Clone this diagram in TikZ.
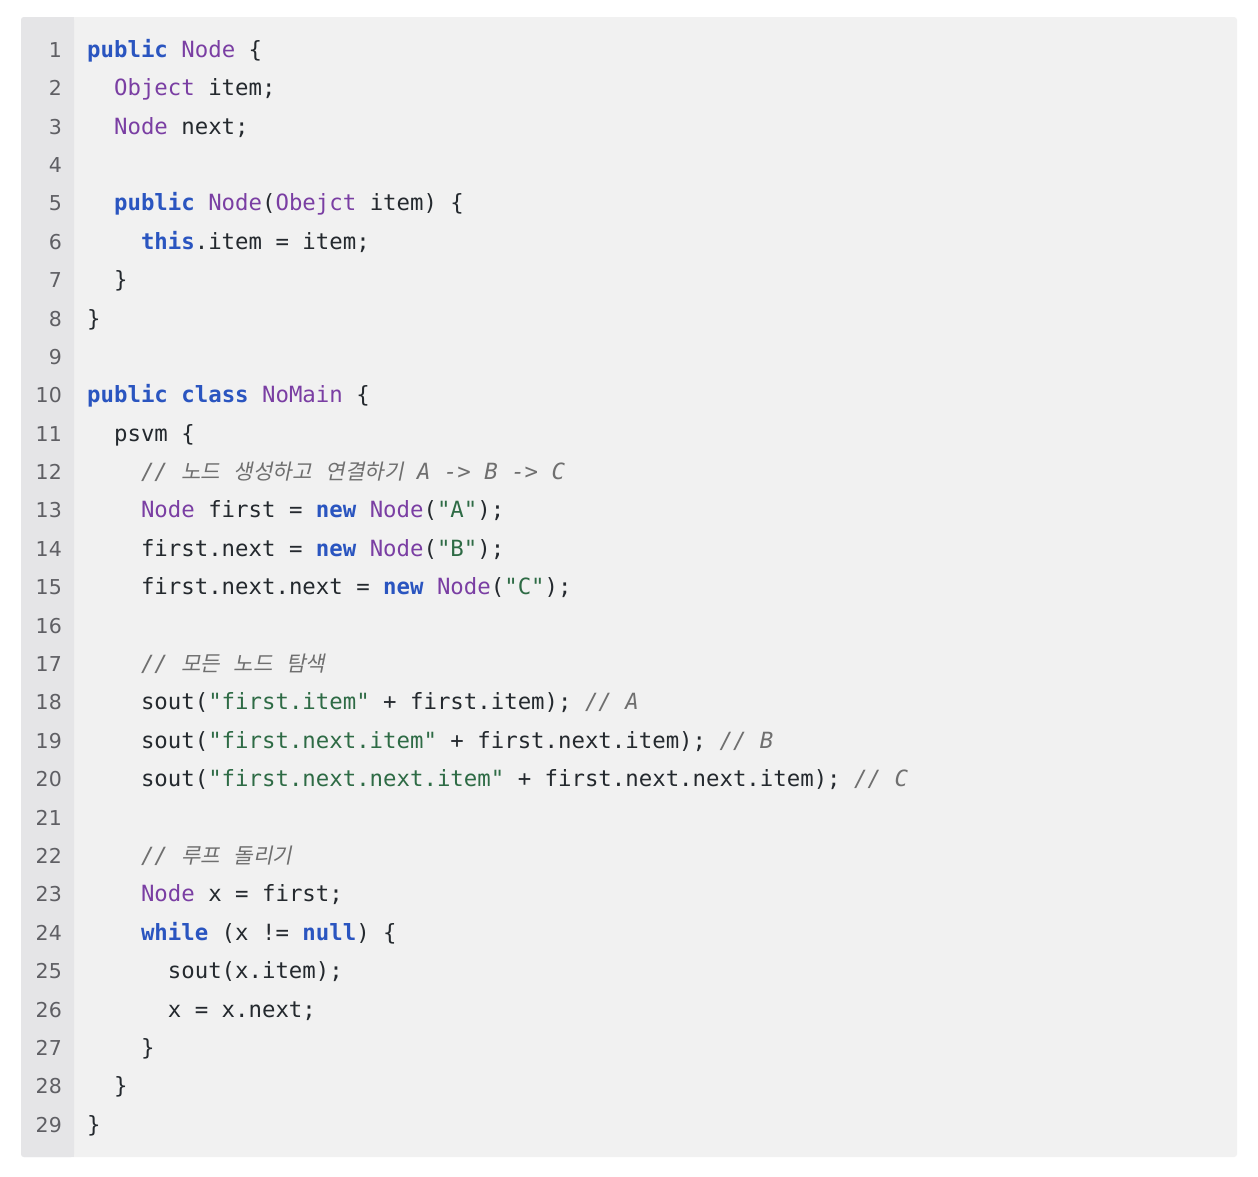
\documentclass[tikz,border=0pt]{standalone}
\usepackage{fontspec}
\usepackage{xcolor}
\setmonofont{DejaVu Sans Mono}
\newfontfamily\numfont{DejaVu Sans}
\newfontfamily\ko{Noto Sans CJK KR}[FakeSlant=0.2, Scale=0.95]
\definecolor{pagebg}{HTML}{FFFFFF}
\definecolor{codebg}{HTML}{F1F1F1}
\definecolor{gutterbg}{HTML}{E5E5E7}
\definecolor{numgray}{HTML}{5F5F64}
\definecolor{txt}{HTML}{24292E}
\definecolor{kwblue}{HTML}{2A55C0}
\definecolor{typurple}{HTML}{7A3EA3}
\definecolor{strgreen}{HTML}{2E6B45}
\definecolor{cmgray}{HTML}{6F6F6F}
\newcommand{\kw}[1]{\textcolor{kwblue}{\bfseries #1}}
\newcommand{\ty}[1]{\textcolor{typurple}{#1}}
\newcommand{\st}[1]{\textcolor{strgreen}{#1}}
\newcommand{\cm}[1]{\textcolor{cmgray}{\itshape #1}}
\newcommand{\kr}[1]{{\ko #1}}
\tikzset{lnum/.style={anchor=base east, inner sep=0pt, text=numgray,
  font=\numfont\fontsize{20.5}{24}\selectfont},
code/.style={anchor=base west, inner sep=0pt, text=txt,
  font=\ttfamily\fontsize{22.35}{38}\selectfont\frenchspacing}}

\begin{document}
\begin{tikzpicture}[x=1pt, y=-1pt]
\useasboundingbox[fill=pagebg] (0,0) rectangle (1258,1176);
% panel and gutter
\fill[codebg, rounded corners=3pt] (21,17) rectangle (1237,1157);
\fill[gutterbg, rounded corners=3pt] (21,17) rectangle (74,1157);
\fill[gutterbg] (50,17) rectangle (74,1157);
% line numbers
\foreach \i in {1,...,29}
  \node[lnum] (n\i) at (62,{57.3+(\i-1)*38.39}) {\i};
% code
\node[code] (c1) at (n1.base -| 87,0) {\kw{public} \ty{Node} \{};
\node[code] (c2) at (n2.base -| 113.9,0) {\ty{Object} item;};
\node[code] (c3) at (n3.base -| 113.9,0) {\ty{Node} next;};
\node[code] (c5) at (n5.base -| 113.9,0) {\kw{public} \ty{Node}(\ty{Obejct} item) \{};
\node[code] (c6) at (n6.base -| 140.8,0) {\kw{this}.item = item;};
\node[code] (c7) at (n7.base -| 113.9,0) {\}};
\node[code] (c8) at (n8.base -| 87,0) {\}};
\node[code] (c10) at (n10.base -| 87,0) {\kw{public} \kw{class} \ty{NoMain} \{};
\node[code] (c11) at (n11.base -| 113.9,0) {psvm \{};
\node[code] (c12) at (n12.base -| 140.8,0) {\cm{// \kr{노드} \kr{생성하고} \kr{연결하기} A -> B -> C}};
\node[code] (c13) at (n13.base -| 140.8,0) {\ty{Node} first = \kw{new} \ty{Node}(\st{"A"});};
\node[code] (c14) at (n14.base -| 140.8,0) {first.next = \kw{new} \ty{Node}(\st{"B"});};
\node[code] (c15) at (n15.base -| 140.8,0) {first.next.next = \kw{new} \ty{Node}(\st{"C"});};
\node[code] (c17) at (n17.base -| 140.8,0) {\cm{// \kr{모든} \kr{노드} \kr{탐색}}};
\node[code] (c18) at (n18.base -| 140.8,0) {sout(\st{"first.item"} + first.item); \cm{// A}};
\node[code] (c19) at (n19.base -| 140.8,0) {sout(\st{"first.next.item"} + first.next.item); \cm{// B}};
\node[code] (c20) at (n20.base -| 140.8,0) {sout(\st{"first.next.next.item"} + first.next.next.item); \cm{// C}};
\node[code] (c22) at (n22.base -| 140.8,0) {\cm{// \kr{루프} \kr{돌리기}}};
\node[code] (c23) at (n23.base -| 140.8,0) {\ty{Node} x = first;};
\node[code] (c24) at (n24.base -| 140.8,0) {\kw{while} (x != \kw{null}) \{};
\node[code] (c25) at (n25.base -| 167.7,0) {sout(x.item);};
\node[code] (c26) at (n26.base -| 167.7,0) {x = x.next;};
\node[code] (c27) at (n27.base -| 140.8,0) {\}};
\node[code] (c28) at (n28.base -| 113.9,0) {\}};
\node[code] (c29) at (n29.base -| 87,0) {\}};
\end{tikzpicture}
\end{document}
